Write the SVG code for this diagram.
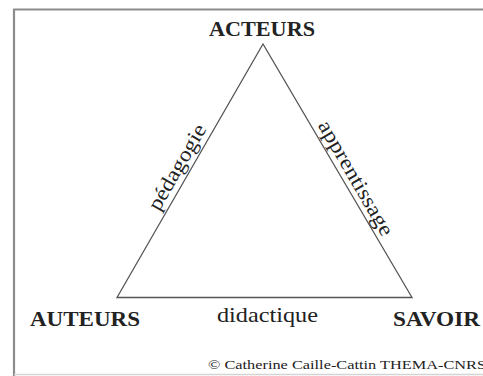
<svg xmlns="http://www.w3.org/2000/svg" width="483" height="376" viewBox="0 0 483 376">
<style>
.lbl{font-family:"Liberation Serif","Times New Roman",serif;fill:#222;}
.big{font-size:21px;font-weight:bold;}
.edge{font-size:21px;}
.frame{stroke:#8c8c8c;fill:none;}
</style>
<rect width="483" height="376" fill="#fff"/>
<g id="frame">
<line class="frame" x1="13" y1="9.5" x2="483" y2="9.5" stroke-width="2.2"/>
<line class="frame" x1="14" y1="9" x2="14" y2="376" stroke-width="2.2"/>
<line x1="14" y1="374.5" x2="483" y2="374.5" stroke="#d4d4d4" stroke-width="1.5"/>
</g>
<g id="connectors" fill="none" stroke="#555" stroke-width="1.3">
<path d="M263 44 L117 297.5 L412 297.5 Z" stroke-linejoin="miter"/>
</g>
<g id="acteurs"><text class="lbl big" x="262" y="36" text-anchor="middle" textLength="106" lengthAdjust="spacingAndGlyphs">ACTEURS</text></g>
<g id="auteurs"><text class="lbl big" x="30" y="326" textLength="110" lengthAdjust="spacingAndGlyphs">AUTEURS</text></g>
<g id="savoir"><text class="lbl big" x="393" y="326" textLength="87" lengthAdjust="spacingAndGlyphs">SAVOIR</text></g>
<g id="label-pedagogie"><text class="lbl edge" transform="translate(183 170.5) rotate(-60)" text-anchor="middle" textLength="96" lengthAdjust="spacingAndGlyphs">pédagogie</text></g>
<g id="label-apprentissage"><text class="lbl edge" transform="translate(350 181.5) rotate(60)" text-anchor="middle" textLength="130" lengthAdjust="spacingAndGlyphs">apprentissage</text></g>
<g id="label-didactique"><text class="lbl edge" x="217" y="322" textLength="101" lengthAdjust="spacingAndGlyphs">didactique</text></g>
<g id="copyright"><text class="lbl" x="208" y="369" font-size="11.5" fill="#333" textLength="278" lengthAdjust="spacingAndGlyphs">© Catherine Caille-Cattin THEMA-CNRS</text></g>
</svg>
